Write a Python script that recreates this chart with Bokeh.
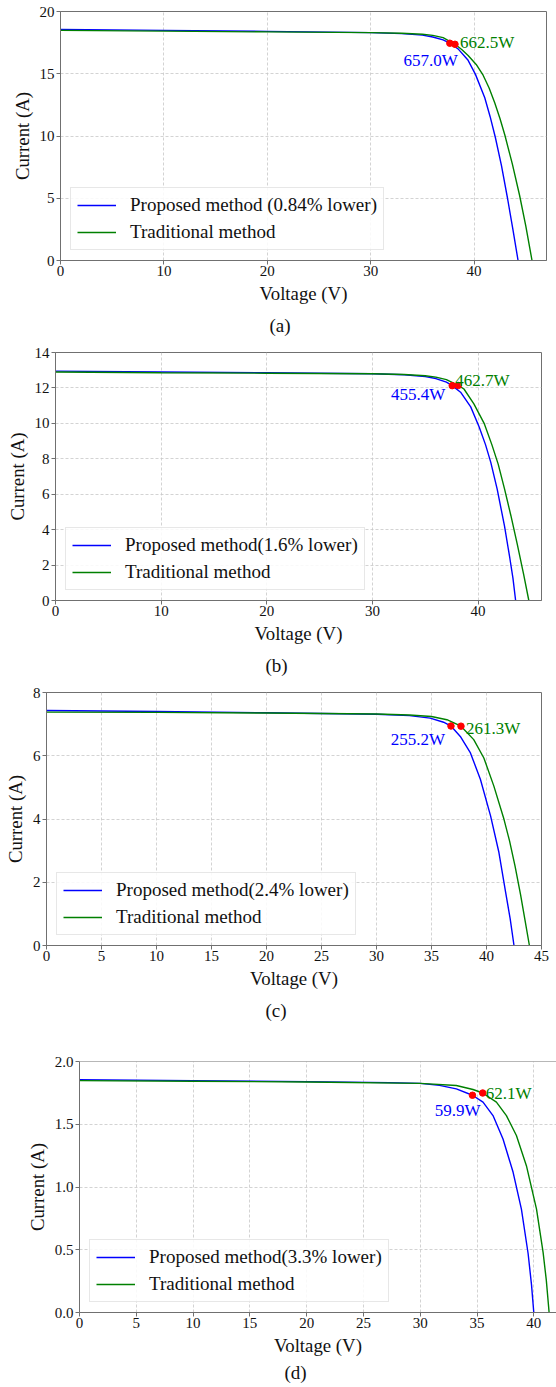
from bokeh.plotting import figure
from bokeh.models import (Legend, LegendItem, Title, Span, FixedTicker,
                          NumeralTickFormatter, Range1d, ColumnDataSource)
from bokeh.core.properties import value
from bokeh.embed import file_html
from bokeh.resources import INLINE

FONT = "Liberation Serif"
BLUE = "#0000ff"
GREEN = "#008000"
RED = "#ff0000"
SPINE = "#707070"

# ---------------- Panel (a) ----------------
a_prop_v = [0, 10, 20, 30, 33, 35, 36, 37, 37.65, 38.45, 39.42, 40.13, 41.03, 41.55, 42.05, 42.65, 43.23, 43.75, 44.25]
a_prop_i = [18.55, 18.48, 18.4, 18.3, 18.22, 18.1, 17.95, 17.72, 17.45, 17.0, 16.08, 14.95, 13.07, 11.55, 9.9, 7.6, 5.0, 2.5, 0.0]
a_trad_v = [0, 10, 20, 30, 33, 35, 36, 37, 38.15, 38.8, 39.42, 40.2, 40.87, 41.45, 42.0, 42.5, 42.97, 43.7, 44.4, 45.0, 45.6]
a_trad_i = [18.48, 18.42, 18.36, 18.3, 18.25, 18.17, 18.08, 17.9, 17.37, 16.95, 16.47, 15.75, 14.88, 13.86, 12.65, 11.4, 10.08, 7.74, 5.22, 2.76, 0.0]
a_mpp_v = [37.65, 38.15]
a_mpp_i = [17.45, 17.366]
a_mpp_text = ["657.0W", "662.5W"]
a_legend = ["Proposed method (0.84% lower)", "Traditional method"]
a_xticks = [0, 10, 20, 30, 40]
a_yticks = [0, 5, 10, 15, 20]

# ---------------- Panel (b) ----------------
b_prop_v = [0, 10, 20, 30, 33, 35, 36, 37, 37.55, 38.34, 39.3, 40.1, 40.7, 41.2, 41.8, 42.5, 43.0, 43.3, 43.55]
b_prop_i = [12.95, 12.9, 12.86, 12.8, 12.74, 12.64, 12.53, 12.33, 12.13, 11.76, 10.93, 9.8, 8.8, 7.8, 6.3, 4.2, 2.4, 1.25, 0.0]
b_trad_v = [0, 10, 20, 30, 33, 35, 36, 37, 38.12, 38.66, 39.6, 40.57, 41.3, 41.9, 42.5, 43.1, 43.7, 44.3, 44.8]
b_trad_i = [12.9, 12.86, 12.83, 12.8, 12.76, 12.69, 12.61, 12.47, 12.14, 11.94, 11.1, 10.0, 8.8, 7.7, 6.3, 4.8, 3.2, 1.5, 0.0]
b_mpp_v = [37.55, 38.12]
b_mpp_i = [12.128, 12.138]
b_mpp_text = ["455.4W", "462.7W"]
b_legend = ["Proposed method(1.6% lower)", "Traditional method"]
b_xticks = [0, 10, 20, 30, 40]
b_yticks = [0, 2, 4, 6, 8, 10, 12, 14]

# ---------------- Panel (c) ----------------
c_prop_v = [0, 10, 20, 30, 33, 34.88, 36.1, 36.77, 37.62, 38.54, 39.45, 40.37, 41.13, 41.74, 42.15, 42.5]
c_prop_i = [7.43, 7.4, 7.36, 7.31, 7.27, 7.19, 7.06, 6.94, 6.61, 6.09, 5.25, 4.1, 2.94, 1.68, 0.85, 0.0]
c_trad_v = [0, 10, 20, 30, 33, 35, 36.4, 37.68, 38.84, 39.76, 40.67, 41.59, 42.1, 42.6, 43.1, 43.5, 43.9]
c_trad_i = [7.38, 7.37, 7.35, 7.32, 7.29, 7.24, 7.14, 6.935, 6.51, 5.93, 5.04, 3.99, 3.3, 2.5, 1.6, 0.8, 0.0]
c_mpp_v = [36.77, 37.68]
c_mpp_i = [6.94, 6.935]
c_mpp_text = ["255.2W", "261.3W"]
c_legend = ["Proposed method(2.4% lower)", "Traditional method"]
c_xticks = [0, 5, 10, 15, 20, 25, 30, 35, 40, 45]
c_yticks = [0, 2, 4, 6, 8]

# ---------------- Panel (d) ----------------
d_prop_v = [0, 10, 20, 27.3, 30, 31.7, 33.18, 34.6, 35.53, 36.41, 37.29, 38.18, 38.91, 39.5, 39.8, 40.0]
d_prop_i = [1.855, 1.848, 1.84, 1.832, 1.826, 1.81, 1.782, 1.731, 1.676, 1.569, 1.383, 1.117, 0.824, 0.47, 0.22, 0.0]
d_trad_v = [0, 10, 20, 30, 33.18, 34.65, 35.5, 36.71, 37.59, 38.47, 39.35, 40.24, 40.82, 41.1, 41.35]
d_trad_i = [1.848, 1.843, 1.837, 1.826, 1.809, 1.777, 1.749, 1.676, 1.569, 1.41, 1.17, 0.824, 0.479, 0.26, 0.0]
d_mpp_v = [34.6, 35.5]
d_mpp_i = [1.731, 1.749]
d_mpp_text = ["59.9W", "62.1W"]
d_legend = ["Proposed method(3.3% lower)", "Traditional method"]
d_xticks = [0, 5, 10, 15, 20, 25, 30, 35, 40]
d_yticks = [0, 0.5, 1.0, 1.5, 2.0]

captions = ["(a)", "(b)", "(c)", "(d)"]


def make_panel(prop_v, prop_i, trad_v, trad_i, mpp_v, mpp_i, mpp_text, legend_labels,
               xticks, yticks, caption, lay):
    p = figure(width=556, height=lay["h"], output_backend="svg", toolbar_location=None,
               x_range=Range1d(0, lay["xmax"]), y_range=Range1d(0, lay["ymax"]),
               min_border_left=lay["l"], min_border_right=lay["r"],
               min_border_top=lay["t"], min_border_bottom=lay["b"])
    p.background_fill_color = "white"
    p.border_fill_color = "white"
    if lay.get("no_outline"):
        p.outline_line_color = None
        p.add_layout(Span(location=lay["ymax"], dimension="width",
                          line_color=SPINE, line_width=1))
    else:
        p.outline_line_color = SPINE
        p.outline_line_width = 1

    for ax in (p.xaxis, p.yaxis):
        ax.axis_line_color = SPINE
        ax.major_tick_line_color = SPINE
        ax.minor_tick_line_color = None
        ax.major_tick_out = 4
        ax.major_tick_in = 0
        ax.major_label_text_font = FONT
        ax.major_label_text_font_size = "15px"
        ax.major_label_text_color = "#111111"
        ax.axis_label_text_font = FONT
        ax.axis_label_text_font_style = "normal"
        ax.axis_label_text_color = "#111111"
        ax.axis_label_text_font_size = "18.8px"

    p.xaxis.ticker = FixedTicker(ticks=xticks)
    p.yaxis.ticker = FixedTicker(ticks=yticks)
    if lay.get("yfmt"):
        p.yaxis.formatter = NumeralTickFormatter(format=lay["yfmt"])
    p.xaxis.axis_label = "Voltage (V)"
    p.yaxis.axis_label = "Current (A)"
    p.xaxis.major_label_standoff = 1
    p.xaxis.axis_label_standoff = 4
    p.yaxis.major_label_standoff = 2
    p.yaxis.axis_label_standoff = 4

    p.grid.grid_line_color = "#c8c8c8"
    p.grid.grid_line_dash = "3 2"
    p.grid.grid_line_width = 0.8

    r1 = p.line(prop_v, prop_i, line_color=BLUE, line_width=1.4)
    r2 = p.line(trad_v, trad_i, line_color=GREEN, line_width=1.4)
    p.scatter(mpp_v, mpp_i, size=6.5, fill_color=RED, line_color=RED)

    src_b = ColumnDataSource(dict(x=[mpp_v[0]], y=[mpp_i[0]], t=[mpp_text[0]]))
    src_g = ColumnDataSource(dict(x=[mpp_v[1]], y=[mpp_i[1]], t=[mpp_text[1]]))
    p.text(x="x", y="y", text="t", source=src_b, text_color=BLUE, text_font=value(FONT),
           text_font_size=value("17px"), text_align="right", text_baseline="alphabetic",
           x_offset=lay["bo"][0], y_offset=lay["bo"][1])
    p.text(x="x", y="y", text="t", source=src_g, text_color=GREEN, text_font=value(FONT),
           text_font_size=value("17px"), text_align="left", text_baseline="alphabetic",
           x_offset=lay["go"][0], y_offset=lay["go"][1])

    legend = Legend(items=[LegendItem(label=legend_labels[0], renderers=[r1]),
                           LegendItem(label=legend_labels[1], renderers=[r2])],
                    location=(10, 10), margin=0, padding=6, spacing=5,
                    glyph_width=39, glyph_height=22, label_height=22, label_standoff=14,
                    label_text_font=FONT, label_text_font_size="19px",
                    label_text_color="#111111",
                    border_line_color="#d0d0d0", border_line_width=1,
                    background_fill_color="white", background_fill_alpha=0.85)
    p.add_layout(legend)

    cap = Title(text=caption, align="left", offset=lay["cap_off"], vertical_align="top",
                standoff=lay["cap_so"], text_font=FONT, text_font_size="19px",
                text_font_style="normal", text_color="#111111")
    p.add_layout(cap, "below")
    return p


# page is drawn from (0, 0); figures are stacked without gaps
lay_a = dict(h=345, t=11, b=80, l=60, r=10, xmax=47, ymax=20, cap_off=209, cap_so=16,
             bo=(8, 17), go=(5, -2))
lay_b = dict(h=340, t=7, b=80, l=55, r=15, xmax=46, ymax=14, cap_off=210, cap_so=16,
             bo=(-7, 9), go=(-3, -5))
lay_c = dict(h=345, t=7, b=85, l=46, r=15, xmax=45, ymax=8, cap_off=219, cap_so=16,
             bo=(-6, 13), go=(5, 2))
lay_d = dict(h=357, t=31, b=73, l=79, r=0, xmax=42, ymax=2.0, cap_off=205, cap_so=6,
             bo=(8, 15), go=(3, 0), yfmt="0.0", no_outline=True)

pa = make_panel(a_prop_v, a_prop_i, a_trad_v, a_trad_i, a_mpp_v, a_mpp_i, a_mpp_text,
                a_legend, a_xticks, a_yticks, captions[0], lay_a)
pb = make_panel(b_prop_v, b_prop_i, b_trad_v, b_trad_i, b_mpp_v, b_mpp_i, b_mpp_text,
                b_legend, b_xticks, b_yticks, captions[1], lay_b)
pc = make_panel(c_prop_v, c_prop_i, c_trad_v, c_trad_i, c_mpp_v, c_mpp_i, c_mpp_text,
                c_legend, c_xticks, c_yticks, captions[2], lay_c)
pd = make_panel(d_prop_v, d_prop_i, d_trad_v, d_trad_i, d_mpp_v, d_mpp_i, d_mpp_text,
                d_legend, d_xticks, d_yticks, captions[3], lay_d)

p = [pa, pb, pc, pd]
open("out.html", "w").write(file_html(p, INLINE))
